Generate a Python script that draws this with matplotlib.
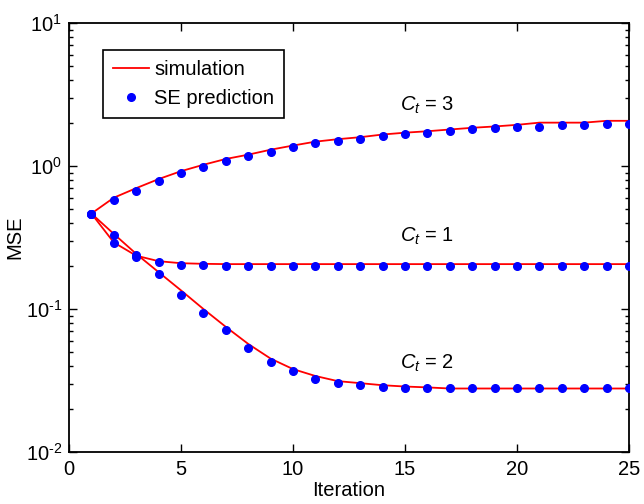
import numpy as np
import matplotlib
matplotlib.use("Agg")
import matplotlib.pyplot as plt
from matplotlib.ticker import LogLocator, FuncFormatter

plt.rcParams['font.family'] = ['Liberation Sans', 'DejaVu Sans']
plt.rcParams['mathtext.fontset'] = 'custom'
plt.rcParams['mathtext.rm'] = 'Liberation Sans'
plt.rcParams['mathtext.it'] = 'Liberation Sans:italic'
plt.rcParams['axes.unicode_minus'] = False

iterations = list(range(1, 26))

se_ct3 = [0.465, 0.578, 0.672, 0.78, 0.894, 0.984, 1.08, 1.17, 1.26, 1.36, 1.44, 1.50, 1.54,
          1.62, 1.67, 1.70, 1.76, 1.81, 1.84, 1.88, 1.88, 1.93, 1.93, 1.98, 1.98]
sim_ct3 = [0.465, 0.60, 0.70, 0.81, 0.92, 1.02, 1.12, 1.20, 1.30, 1.39, 1.48, 1.54, 1.59,
           1.66, 1.71, 1.75, 1.80, 1.85, 1.89, 1.94, 2.01, 2.01, 2.01, 2.07, 2.07]

se_ct1 = [0.465, 0.288, 0.230, 0.214, 0.203, 0.202, 0.200, 0.199, 0.199, 0.199, 0.199, 0.199, 0.199,
          0.199, 0.199, 0.199, 0.199, 0.199, 0.199, 0.199, 0.199, 0.199, 0.199, 0.199, 0.199]
sim_ct1 = [0.465, 0.292, 0.236, 0.216, 0.209, 0.207, 0.206, 0.206, 0.206, 0.206, 0.206, 0.206, 0.206,
           0.206, 0.206, 0.206, 0.206, 0.206, 0.206, 0.206, 0.206, 0.206, 0.206, 0.206, 0.206]

se_ct2 = [0.465, 0.329, 0.238, 0.175, 0.126, 0.0933, 0.0713, 0.0536, 0.0428, 0.0370, 0.0326, 0.0302,
          0.0296, 0.0286, 0.0280, 0.0280, 0.0279, 0.0279, 0.0279, 0.0279, 0.0279, 0.0279, 0.0279, 0.0279, 0.0279]
sim_ct2 = [0.465, 0.335, 0.243, 0.181, 0.135, 0.100, 0.075, 0.0570, 0.0450, 0.0380, 0.0340, 0.0313,
           0.0303, 0.0293, 0.0287, 0.0283, 0.0278, 0.0278, 0.0278, 0.0278, 0.0278, 0.0278, 0.0278, 0.0278, 0.0278]

labels = [r'$C_t$ = 3', r'$C_t$ = 1', r'$C_t$ = 2']
label_x = [16, 16, 16]
label_y = [2.67, 0.32, 0.042]

FS = 14.5


def ytick_fmt(v, pos):
    e = int(round(np.log10(v)))
    if e < 0:
        return r'$\mathregular{10^{\text{-}%d}}$' % (-e)
    return r'$\mathregular{10^{%d}}$' % e


fig = plt.figure(figsize=(6.44, 5.04), dpi=100)
ax = fig.add_axes([69/644, 52/504, 560/644, 429/504])

for i, sim in enumerate([sim_ct3, sim_ct1, sim_ct2]):
    ax.plot(iterations, sim, color='red', lw=1.3, label='simulation' if i == 0 else None, zorder=2)
for i, se in enumerate([se_ct3, se_ct1, se_ct2]):
    ax.plot(iterations, se, 'o', color='blue', ms=5.5, mec='blue', ls='none',
            label='SE prediction' if i == 0 else None, zorder=3)

for t, xx, yy in zip(labels, label_x, label_y):
    ax.text(xx, yy, t, fontsize=FS, ha='center', va='center')

ax.set_yscale('log')
ax.set_xlim(0, 25)
ax.set_ylim(1e-2, 1e1)
ax.set_xticks([0, 5, 10, 15, 20, 25])
ax.yaxis.set_major_locator(LogLocator(base=10, numticks=10))
ax.yaxis.set_minor_locator(LogLocator(base=10, subs=np.arange(2, 10), numticks=10))
ax.yaxis.set_major_formatter(FuncFormatter(ytick_fmt))
ax.tick_params(which='both', direction='in', top=True, right=True, labelsize=FS, width=1)
ax.tick_params(which='major', length=6)
ax.tick_params(axis='x', which='major', pad=6)
ax.tick_params(axis='y', which='major', pad=5)
ax.tick_params(which='minor', length=3)
for s in ax.spines.values():
    s.set_linewidth(1.3)

ax.set_xlabel('Iteration', fontsize=FS, labelpad=1)
ax.set_ylabel('MSE', fontsize=FS)
ax.yaxis.set_label_coords(-0.08, 0.5)

leg = ax.legend(loc='upper left', bbox_to_anchor=(0.0607, 0.937), fontsize=FS, frameon=True,
                fancybox=False, edgecolor='black', framealpha=1, handlelength=1.8,
                handletextpad=0.25, borderpad=0.5, labelspacing=0.5, borderaxespad=0)
leg.get_frame().set_linewidth(1.2)

fig.savefig('out.png', dpi=100)
